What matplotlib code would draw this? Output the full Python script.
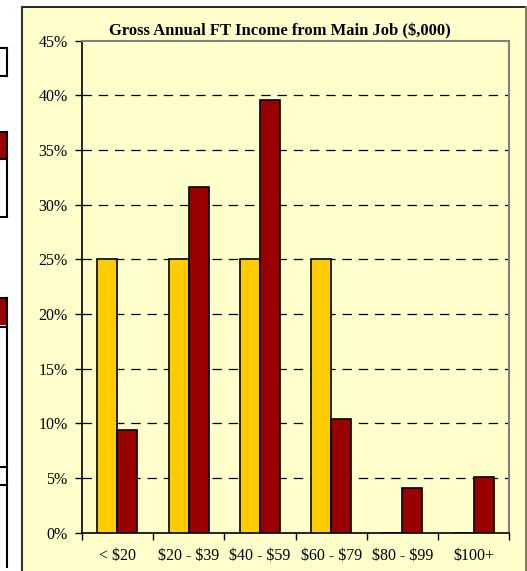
import numpy as np
import matplotlib
matplotlib.use('Agg')
import matplotlib.pyplot as plt
from matplotlib.patches import Rectangle
from matplotlib.lines import Line2D

categories = ['< $20', '$20 - $39', '$40 - $59', '$60 - $79', '$80 - $99', '$100+']
series_a = [25.0, 25.0, 25.0, 25.0, 0.0, 0.0]
series_b = [9.4, 31.6, 39.6, 10.4, 4.1, 5.1]
y_ticks = [0, 5, 10, 15, 20, 25, 30, 35, 40, 45]

W, H = 527, 571
plt.rcParams['font.family'] = ['Liberation Serif', 'DejaVu Serif']
plt.rcParams['text.parse_math'] = False

fig = plt.figure(figsize=(W / 100, H / 100), dpi=100)
fig.patch.set_facecolor('white')


def px(x, y):
    return x / W, 1 - y / H


def fig_line(x0, y0, x1, y1, color='black', lw=1.5):
    (a, b), (c, d) = px(x0, y0), px(x1, y1)
    fig.add_artist(Line2D([a, c], [b, d], color=color, lw=lw, transform=fig.transFigure))


# chart frame
x0, y0 = px(22, 7)
frame = Rectangle((x0, 0), (526 - 22) / W, y0, transform=fig.transFigure,
                  facecolor='#FFFFCC', edgecolor='none', zorder=0)
fig.add_artist(frame)
fig_line(22, 7, 526, 7, color='black', lw=1.2)
fig_line(22, 7, 22, 571, color='#333333', lw=1.5)
fig_line(526, 7, 526, 571, color='#808060', lw=1.5)

# cut-off table pieces at the left edge
fig_line(0, 48, 7, 48)
fig_line(0, 76, 7, 76)
fig_line(7, 48, 7, 76)
for top, bottom, lines in [(132, 217, [159, 217]), (298, 567, [327, 467, 485])]:
    fig.add_artist(Rectangle(px(0, top + 27), 7 / W, 27 / H, transform=fig.transFigure,
                             facecolor='#990000', edgecolor='none'))
    fig_line(0, top, 7, top)
    fig_line(7, top, 7, bottom)
    for yy in lines:
        fig_line(0, yy, 7, yy)

ax = fig.add_axes([81.7 / W, 38.3 / H, 427.6 / W, 492 / H])
ax.set_facecolor('#FFFFCC')

x = np.arange(len(categories))
w = 0.28
ax.bar(x - w / 2, series_a, w, color='#FFCC00', edgecolor='black', linewidth=1.2, zorder=3)
ax.bar(x + w / 2, series_b, w, color='#990000', edgecolor='black', linewidth=1.2, zorder=3)

ax.set_xlim(-0.5, len(categories) - 0.5)
ax.set_ylim(0, 45)
ax.set_yticks(y_ticks)
ax.set_yticklabels(['{}%'.format(v) for v in y_ticks], fontsize=11.5)
ax.set_xticks(x)
ax.set_xticklabels(categories, fontsize=11.5)
ax.set_xticks(np.arange(len(categories) + 1) - 0.5, minor=True)
ax.tick_params(axis='x', which='major', length=0, pad=11)
ax.tick_params(axis='x', which='minor', length=5, width=1, direction='out')
ax.tick_params(axis='y', length=5, width=1, direction='out', pad=5)

for v in y_ticks[1:-1]:
    ax.axhline(v, color='black', lw=0.9, dashes=(7.5, 5.5), zorder=1)

for side in ['top', 'right']:
    ax.spines[side].set_color('#808080')
    ax.spines[side].set_linewidth(1.5)
for side in ['left', 'bottom']:
    ax.spines[side].set_color('black')
    ax.spines[side].set_linewidth(1.2)

fig.text(280 / W, 1 - 31 / H, 'Gross Annual FT Income from Main Job ($,000)',
         ha='center', va='center', fontsize=12, fontweight='bold')

fig.savefig('out.png', dpi=100)
